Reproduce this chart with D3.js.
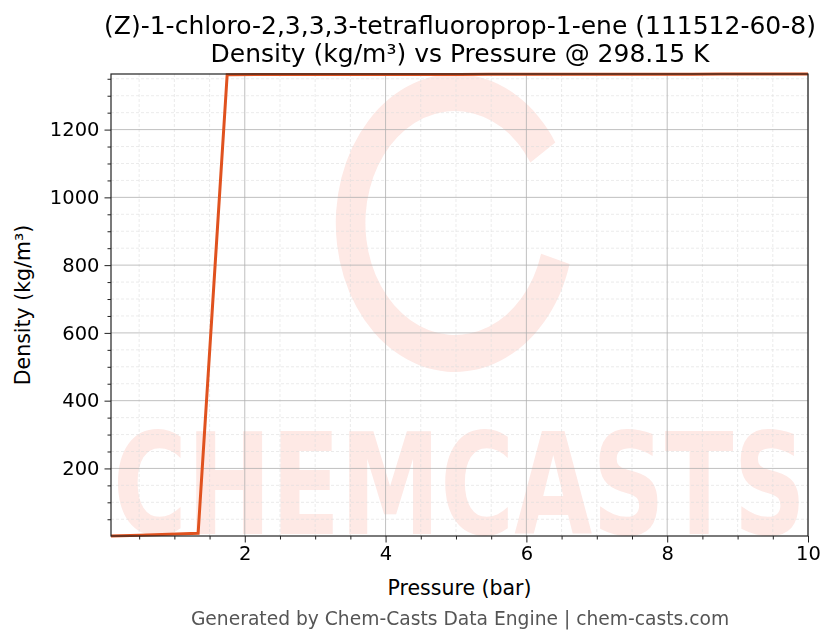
<!DOCTYPE html>
<html>
<head>
<meta charset="utf-8">
<script src="https://cdn.jsdelivr.net/npm/d3@7"></script>
<style>
  body { margin: 0; background: #fff; }
  text { font-family: "DejaVu Sans", sans-serif; }
</style>
</head>
<body>
<svg width="836" height="644"></svg>
<script>
// pressure grid (bar) and density (kg/m3)
var pressure = [0.1, 0.5125, 0.925, 1.3375, 1.75, 2.1625, 2.575, 2.9875, 3.4, 3.8125,
                4.225, 4.6375, 5.05, 5.4625, 5.875, 6.2875, 6.7, 7.1125, 7.525, 7.9375,
                8.35, 8.7625, 9.175, 9.5875, 10];
var density = [0.6, 3.1, 5.7, 8.4, 1362.2, 1362.3, 1362.4, 1362.5, 1362.6, 1362.7,
               1362.8, 1362.9, 1362.95, 1363.0, 1363.1, 1363.2, 1363.3, 1363.4, 1363.5, 1363.6,
               1363.7, 1363.8, 1363.9, 1364.0, 1364.1];
var xTicks = [2, 4, 6, 8, 10];
var yTicks = [200, 400, 600, 800, 1000, 1200];
var xMinor = [0.5, 1, 1.5, 2.5, 3, 3.5, 4.5, 5, 5.5, 6.5, 7, 7.5, 8.5, 9, 9.5];
var yMinor = [50, 100, 150, 250, 300, 350, 450, 500, 550, 650, 700, 750, 850, 900, 950,
              1050, 1100, 1150, 1250, 1300, 1350];

var titleLines = ["(Z)-1-chloro-2,3,3,3-tetrafluoroprop-1-ene (111512-60-8)",
                  "Density (kg/m\u00b3) vs Pressure @ 298.15 K"];

var data = pressure.map(function(p, i) { return {p: p, d: density[i]}; });

var svg = d3.select("svg"),
    margin = {top: 74, right: 28, bottom: 108, left: 111},
    width = 836 - margin.left - margin.right,
    height = 644 - margin.top - margin.bottom,
    g = svg.append("g").attr("transform", "translate(" + margin.left + "," + margin.top + ")");

var x = d3.scaleLinear().domain(d3.extent(pressure)).range([0, width]),
    y = d3.scaleLinear().domain(d3.extent(density)).range([height, 0]);

// watermark
var wm = g.append("g").attr("opacity", 0.13);
wm.append("path")
    .attr("d", d3.arc().innerRadius(112).outerRadius(149).startAngle(1.85).endAngle(2 * Math.PI + 1.0)())
    .attr("transform", "translate(344,149) scale(0.8,1)")
    .attr("fill", "#f4553a");
wm.append("text")
    .attr("x", width / 2)
    .attr("y", height - 2)
    .attr("text-anchor", "middle")
    .attr("textLength", width - 4)
    .attr("lengthAdjust", "spacingAndGlyphs")
    .style("font-size", "140px")
    .style("font-weight", "bold")
    .attr("fill", "#f4553a")
    .text("CHEMCASTS");

// minor grid
g.append("g").selectAll("line").data(xMinor).enter().append("line")
    .attr("x1", function(d) { return x(d); }).attr("x2", function(d) { return x(d); })
    .attr("y1", 0).attr("y2", height)
    .attr("stroke", "#dddddd").attr("stroke-width", 0.6).attr("stroke-dasharray", "3,2");
g.append("g").selectAll("line").data(yMinor).enter().append("line")
    .attr("y1", function(d) { return y(d); }).attr("y2", function(d) { return y(d); })
    .attr("x1", 0).attr("x2", width)
    .attr("stroke", "#dddddd").attr("stroke-width", 0.6).attr("stroke-dasharray", "3,2");

// major grid
g.append("g").selectAll("line").data(xTicks).enter().append("line")
    .attr("x1", function(d) { return x(d); }).attr("x2", function(d) { return x(d); })
    .attr("y1", 0).attr("y2", height)
    .attr("stroke", "#b0b0b0").attr("stroke-width", 0.8);
g.append("g").selectAll("line").data(yTicks).enter().append("line")
    .attr("y1", function(d) { return y(d); }).attr("y2", function(d) { return y(d); })
    .attr("x1", 0).attr("x2", width)
    .attr("stroke", "#b0b0b0").attr("stroke-width", 0.8);

// line
var line = d3.line()
    .x(function(d) { return x(d.p); })
    .y(function(d) { return y(d.d); });

g.append("path")
    .datum(data)
    .attr("d", line)
    .attr("fill", "none")
    .attr("stroke", "#e0521f")
    .attr("stroke-width", 3);

// axes
g.append("g")
    .attr("transform", "translate(0," + height + ")")
    .call(d3.axisBottom(x).tickValues(xTicks).tickSize(6.5).tickPadding(4).tickFormat(d3.format("d")));
g.append("g")
    .attr("transform", "translate(0," + height + ")")
    .call(d3.axisBottom(x).tickValues(xMinor).tickSize(3.5))
    .selectAll("text").remove();
g.append("g")
    .call(d3.axisLeft(y).tickValues(yTicks).tickSize(6.5).tickPadding(5).tickFormat(d3.format("d")));
g.append("g")
    .call(d3.axisLeft(y).tickValues(yMinor).tickSize(3.5))
    .selectAll("text").remove();

g.selectAll(".domain").remove();
g.selectAll(".tick line").attr("stroke", "#222").attr("stroke-width", 1);
g.selectAll(".tick text").style("font-size", "19.5px").attr("fill", "#000")
    .style("font-family", "'DejaVu Sans', sans-serif");

g.append("rect")
    .attr("width", width).attr("height", height)
    .attr("fill", "none").attr("stroke", "#222").attr("stroke-width", 1.2);

// labels
svg.append("text")
    .attr("x", margin.left + width / 2).attr("y", 595)
    .attr("text-anchor", "middle").style("font-size", "20.5px")
    .text("Pressure (bar)");

svg.append("text")
    .attr("transform", "translate(30," + (margin.top + height / 2) + ") rotate(-90)")
    .attr("text-anchor", "middle").style("font-size", "20.5px")
    .text("Density (kg/m\u00b3)");

svg.selectAll(".title").data(titleLines).enter().append("text")
    .attr("class", "title")
    .attr("x", 460)
    .attr("y", function(d, i) { return 34 + i * 28; })
    .attr("text-anchor", "middle").style("font-size", "25px")
    .text(function(d) { return d; });

svg.append("text")
    .attr("x", 460).attr("y", 625)
    .attr("text-anchor", "middle").style("font-size", "18.7px")
    .attr("fill", "#555")
    .text("Generated by Chem-Casts Data Engine | chem-casts.com");
</script>
</body>
</html>
